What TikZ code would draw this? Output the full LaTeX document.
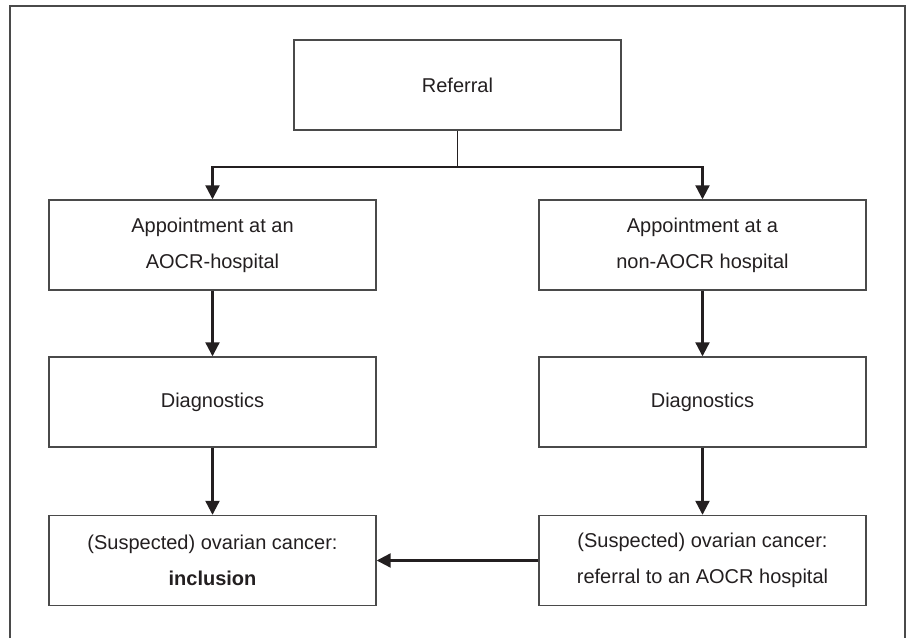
\documentclass[tikz,border=0pt]{standalone}
\usepackage{fontspec}
\setmainfont{Liberation Sans}
\usepackage{tikz}
\usetikzlibrary{calc}
\usetikzlibrary{positioning}
\usetikzlibrary{arrows.meta}

\definecolor{ink}{HTML}{231F20}
\definecolor{rim}{HTML}{4A4A4A}

\begin{document}
\begin{tikzpicture}[>={Triangle[length=14pt,width=14pt]},x=1pt,y=1pt,
    box/.style={draw=rim,line width=1.4pt,minimum width=327pt,minimum height=90pt,
      align=center,text=ink,font=\fontsize{20}{36}\selectfont,inner sep=0pt},
    flow/.style={draw=ink,line width=2.2pt}]
      \useasboundingbox (0,0) rectangle (911,638);
      \draw[rim,line width=1.6pt] (10,0) -- (10,632) -- (905,632) -- (905,0);

      \node[box] (referral) at (457.5,553) {Referral};
      \node[box] (apptl) at (212.5,393) {Appointment at an\\AOCR-hospital};
      \node[box] (apptr) at (702.5,393) {Appointment at a\\non-AOCR hospital};
      \node[box] (diagl) at (212.5,236) {Diagnostics};
      \node[box] (diagr) at (702.5,236) {Diagnostics};
      \node[box] (incl) at (212.5,77.5) {(Suspected) ovarian cancer:\\\textbf{inclusion}};
      \node[box] (refr) at (702.5,77.5) {(Suspected) ovarian cancer:\\referral to an AOCR hospital};

      \draw[ink,line width=1.4pt] (referral.south) -- ++(0,-36) coordinate (split);
      \draw[flow,->] (split) -| (apptl.north);
      \draw[flow,->] (split) -| (apptr.north);
      \draw[flow,->] (apptl) -- (diagl);
      \draw[flow,->] (apptr) -- (diagr);
      \draw[flow,->] (diagl) -- (incl);
      \draw[flow,->] (diagr) -- (refr);
      \draw[flow,->] (refr) -- (incl);
\end{tikzpicture}
\end{document}
